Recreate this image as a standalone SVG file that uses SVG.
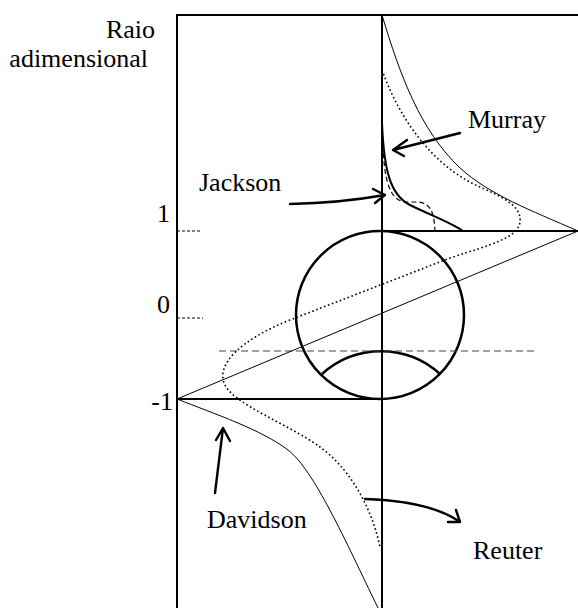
<svg xmlns="http://www.w3.org/2000/svg" width="578" height="608" viewBox="0 0 578 608">
<style>
text{font-family:"Liberation Serif","Times New Roman",serif;font-size:26px;fill:#000}
.frame{stroke:#000;stroke-width:2;fill:none}
.thin{stroke:#000;stroke-width:1;fill:none}
.thick{stroke:#000;stroke-width:2.5;fill:none}
.dot{stroke:#000;stroke-width:1.6;stroke-dasharray:1.6 2.6;fill:none}
.dash{stroke:#000;stroke-width:1.2;stroke-dasharray:5 3;fill:none}
.tick{stroke:#000;stroke-width:1;stroke-dasharray:3 2;fill:none}
.grey{stroke:#444;stroke-width:1.1;stroke-dasharray:7 4;fill:none}
.arr{stroke:#000;stroke-width:2.4;fill:none;stroke-linecap:round;stroke-linejoin:round}
</style>
<rect width="578" height="608" fill="#fff"/>
<g id="axes">
<line class="frame" x1="177" y1="15" x2="177" y2="608"/>
<line class="frame" x1="176" y1="15" x2="578" y2="15"/>
<line class="frame" x1="382" y1="15" x2="382" y2="608"/>
<line class="frame" x1="382" y1="231" x2="578" y2="231"/>
<line class="frame" x1="177" y1="399" x2="382" y2="399"/>
<line class="tick" x1="177" y1="231" x2="201" y2="231"/>
<line class="tick" x1="177" y1="318" x2="203" y2="318"/>
<text x="155" y="38" text-anchor="end">Raio</text>
<text x="148" y="67" text-anchor="end">adimensional</text>
<text x="170" y="222" text-anchor="end">1</text>
<text x="170" y="313" text-anchor="end">0</text>
<text x="173" y="410" text-anchor="end">-1</text>
</g>
<g id="bubble">
<circle class="thick" cx="380" cy="315" r="84"/>
<path class="thick" d="M322,374 A88,88 0 0 1 440,374"/>
<line class="grey" x1="219" y1="351" x2="538" y2="351"/>
</g>
<g id="profiles">
<line class="thin" x1="177" y1="399" x2="578" y2="231"/>
<path class="thin" d="M382,15 C400,75 420,130 460,168 C490,195 530,210 578,231"/>
<path class="thin" d="M177,399 C215,414 262,430 288,450 C314,470 345,540 378,608"/>
<path class="dot" d="M382,70 C398,115 430,165 480,187 C500,196 522,205 520,222 C518,238 490,245 450,258 L290,320 C240,340 215,365 225,385 C235,405 290,425 320,447 C345,465 370,500 380,547"/>
<path class="frame" stroke-width="1.6" d="M382,123 C384,170 390,195 410,205 C430,215 450,222 463,231"/>
<path class="dash" d="M383,145 C384,175 388,200 405,202 L418,202 C432,203 434,215 435,231"/>
</g>
<g id="connectors">
<path class="arr" d="M460,133 L393,150 M407,140 L393,150 L404,156"/>
<path class="arr" d="M290,204 Q340,203 385,195 M373,189 L385,195 L375,203"/>
<path class="arr" d="M215,493 L223,428 M216,440 L223,428 L230,441"/>
<path class="arr" d="M365,499 Q430,501 460,522 M448,522 L460,522 L456,510"/>
</g>
<g id="label-murray"><text x="468" y="128">Murray</text></g>
<g id="label-jackson"><text x="199" y="191">Jackson</text></g>
<g id="label-davidson"><text x="207" y="528">Davidson</text></g>
<g id="label-reuter"><text x="473" y="559">Reuter</text></g>
</svg>
